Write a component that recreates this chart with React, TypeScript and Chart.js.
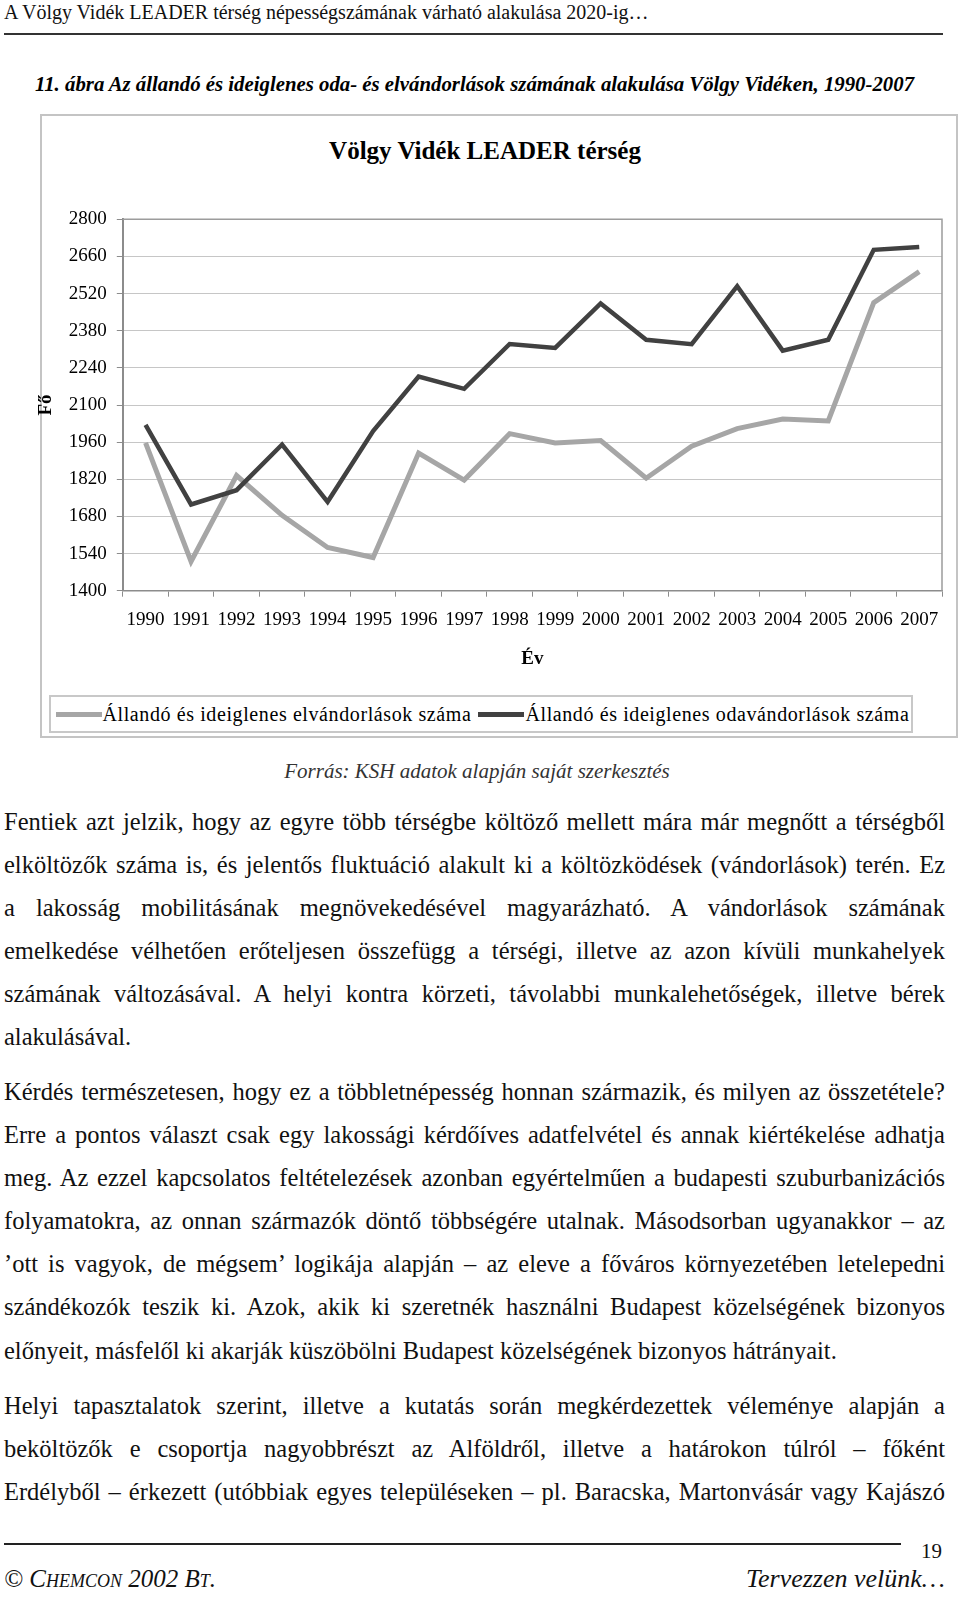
import React, { useEffect, useRef } from "react";
import { Chart, registerables } from "chart.js";

Chart.register(...registerables);

// ---- data ----
const years = [
  "1990", "1991", "1992", "1993", "1994", "1995", "1996", "1997", "1998",
  "1999", "2000", "2001", "2002", "2003", "2004", "2005", "2006", "2007",
];
// Állandó és ideiglenes elvándorlások száma (light)
const outMigration = [
  1957, 1510, 1834, 1684, 1563, 1525, 1919, 1817, 1992,
  1957, 1966, 1824, 1945, 2011, 2047, 2040, 2486, 2603,
];
// Állandó és ideiglenes odavándorlások száma (dark)
const inMigration = [
  2025, 1725, 1779, 1951, 1735, 2002, 2207, 2161, 2330,
  2315, 2483, 2346, 2329, 2548, 2305, 2346, 2685, 2696,
];
const yMin = 1400;
const yMax = 2800;
const yStep = 140;
const seriesLabels = [
  "Állandó és ideiglenes elvándorlások száma",
  "Állandó és ideiglenes odavándorlások száma",
];
const seriesColors = ["#a6a6a6", "#414141"];
const chartTitle = "Völgy Vidék LEADER térség";
const xTitle = "Év";
const yTitle = "Fő";

const SERIF = "'Liberation Serif', 'Times New Roman', serif";

const para1 = [
  "Fentiek azt jelzik, hogy az egyre több térségbe költöző mellett mára már megnőtt a térségből",
  "elköltözők száma is, és jelentős fluktuáció alakult ki a költözködések (vándorlások) terén. Ez",
  "a lakosság mobilitásának megnövekedésével magyarázható. A vándorlások számának",
  "emelkedése vélhetően erőteljesen összefügg a térségi, illetve az azon kívüli munkahelyek",
  "számának változásával. A helyi kontra körzeti, távolabbi munkalehetőségek, illetve bérek",
  "alakulásával.",
];
const para2 = [
  "Kérdés természetesen, hogy ez a többletnépesség honnan származik, és milyen az összetétele?",
  "Erre a pontos választ csak egy lakossági kérdőíves adatfelvétel és annak kiértékelése adhatja",
  "meg. Az ezzel kapcsolatos feltételezések azonban egyértelműen a budapesti szuburbanizációs",
  "folyamatokra, az onnan származók döntő többségére utalnak. Másodsorban ugyanakkor – az",
  "’ott is vagyok, de mégsem’ logikája alapján – az eleve a főváros környezetében letelepedni",
  "szándékozók teszik ki. Azok, akik ki szeretnék használni Budapest közelségének bizonyos",
  "előnyeit, másfelől ki akarják küszöbölni Budapest közelségének bizonyos hátrányait.",
];
const para3 = [
  "Helyi tapasztalatok szerint, illetve a kutatás során megkérdezettek véleménye alapján a",
  "beköltözők e csoportja nagyobbrészt az Alföldről, illetve a határokon túlról – főként",
  "Erdélyből – érkezett (utóbbiak egyes településeken – pl. Baracska, Martonvásár vagy Kajászó",
];

const plotFrame = {
  id: "plotFrame",
  beforeDatasetsDraw(chart: any) {
    const { ctx, chartArea } = chart;
    const { left, right, top, bottom } = chartArea;
    ctx.save();
    ctx.strokeStyle = "#9c9c9c";
    ctx.lineWidth = 1.5;
    ctx.beginPath();
    ctx.moveTo(left, top);
    ctx.lineTo(right, top);
    ctx.lineTo(right, bottom);
    ctx.stroke();
    ctx.restore();
  },
};

function MigrationChart() {
  const ref = useRef<HTMLCanvasElement | null>(null);
  useEffect(() => {
    if (!ref.current) return;
    const tickFont = { family: SERIF, size: 19 };
    const chart = new Chart(ref.current, {
      type: "line",
      data: {
        labels: years,
        datasets: [
          {
            label: seriesLabels[0],
            data: outMigration,
            borderColor: seriesColors[0],
            backgroundColor: seriesColors[0],
            borderWidth: 5,
            pointRadius: 0,
            tension: 0,
            order: 1,
          },
          {
            label: seriesLabels[1],
            data: inMigration,
            borderColor: seriesColors[1],
            backgroundColor: seriesColors[1],
            borderWidth: 4.5,
            pointRadius: 0,
            tension: 0,
            order: 0,
          },
        ],
      },
      options: {
        responsive: false,
        animation: false,
        events: [],
        layout: { padding: { left: 0, right: 18, top: 29.3, bottom: 0 } },
        plugins: {
          legend: { display: false },
          tooltip: { enabled: false },
          title: { display: false },
        },
        scales: {
          x: {
            type: "category",
            offset: true,
            grid: {
              drawOnChartArea: false,
              drawTicks: true,
              tickLength: 6,
              tickColor: "#8c8c8c",
              offset: true,
            },
            border: { display: true, color: "#8c8c8c", width: 1.5 },
            ticks: {
              color: "#000",
              font: tickFont,
              padding: 12,
              maxRotation: 0,
              autoSkip: false,
            },
            title: {
              display: true,
              text: xTitle,
              color: "#000",
              font: { family: SERIF, size: 19, weight: "bold" },
              padding: { top: 0, bottom: 10 },
            },
            afterFit(scale: any) {
              scale.height = 89.3;
            },
          },
          y: {
            min: yMin,
            max: yMax,
            ticks: {
              stepSize: yStep,
              color: "#000",
              font: tickFont,
              padding: 10,
              callback: (v: any) => String(v),
            },
            grid: {
              color: "#c6c6c6",
              lineWidth: 1,
              tickColor: "#8c8c8c",
              tickLength: 6,
            },
            border: { display: true, color: "#8c8c8c", width: 2 },
            title: {
              display: true,
              text: yTitle,
              color: "#000",
              font: { family: SERIF, size: 19, weight: "bold" },
              padding: { top: 34.6, bottom: 0 },
            },
            afterFit(scale: any) {
              scale.width = 122.8;
            },
          },
        },
      } as any,
      plugins: [plotFrame],
    });
    return () => chart.destroy();
  }, []);
  return (
    <canvas
      ref={ref}
      width={960}
      height={490}
      style={{ position: "absolute", left: 0, top: 190, width: 960, height: 490, display: "block" }}
    />
  );
}

function Paragraph({ lines, top, justifyLast }: { lines: string[]; top: number; justifyLast?: boolean }) {
  return (
    <div
      style={{
        position: "absolute",
        left: 4,
        top,
        width: 941,
        fontFamily: SERIF,
        fontSize: 24.5,
        lineHeight: "43.1px",
        color: "#111",
      }}
    >
      {lines.map((l, i) => (
        <div
          key={i}
          style={{
            textAlign: "justify",
            textAlignLast: i === lines.length - 1 && !justifyLast ? "left" : "justify",
          }}
        >
          {l}
        </div>
      ))}
    </div>
  );
}

export default function App() {
  return (
    <div style={{ position: "relative", width: 960, height: 1597, overflow: "hidden", background: "#fff" }}>
      <style>{"body{margin:0;background:#fff}"}</style>
      {/* running header */}
      <div
        style={{
          position: "absolute",
          left: 4,
          top: 0,
          fontFamily: SERIF,
          fontSize: 20,
          lineHeight: "24px",
          color: "#111",
          whiteSpace: "nowrap",
        }}
      >
        A Völgy Vidék LEADER térség népességszámának várható alakulása 2020-ig…
      </div>
      <div style={{ position: "absolute", left: 4, top: 33, width: 939, height: 2, background: "#333" }} />
      {/* caption */}
      <div
        style={{
          position: "absolute",
          left: 4,
          width: 941,
          top: 71,
          textAlign: "center",
          fontFamily: SERIF,
          fontSize: 20.8,
          fontWeight: "bold",
          fontStyle: "italic",
          lineHeight: "26px",
          color: "#000",
          whiteSpace: "nowrap",
        }}
      >
        11. ábra Az állandó és ideiglenes oda- és elvándorlások számának alakulása Völgy Vidéken, 1990-2007
      </div>
      {/* chart box */}
      <div
        style={{
          position: "absolute",
          left: 40,
          top: 114,
          width: 918,
          height: 624,
          border: "2px solid #c4c4c4",
          boxSizing: "border-box",
        }}
      />
      <div
        style={{
          position: "absolute",
          left: 485,
          top: 135,
          transform: "translateX(-50%)",
          fontFamily: SERIF,
          fontSize: 25,
          fontWeight: "bold",
          lineHeight: "32px",
          whiteSpace: "nowrap",
          color: "#000",
        }}
      >
        {chartTitle}
      </div>
      <MigrationChart />
      {/* legend */}
      <div
        style={{
          position: "absolute",
          left: 49,
          top: 695,
          width: 864,
          height: 38,
          border: "2px solid #c8c8c8",
          boxSizing: "border-box",
          display: "flex",
          alignItems: "center",
          paddingLeft: 4.5,
          fontFamily: SERIF,
          fontSize: 20,
          letterSpacing: 0.6,
          color: "#000",
          whiteSpace: "nowrap",
        }}
      >
        {seriesLabels.map((l, i) => (
          <div key={i} style={{ display: "flex", alignItems: "center", marginRight: 7 }}>
            <span style={{ display: "inline-block", width: 46, height: 5, background: seriesColors[i], marginRight: 1 }} />
            <span>{l}</span>
          </div>
        ))}
      </div>
      {/* source */}
      <div
        style={{
          position: "absolute",
          left: 4,
          width: 946,
          top: 758,
          textAlign: "center",
          fontFamily: SERIF,
          fontSize: 21,
          fontStyle: "italic",
          lineHeight: "26px",
          color: "#333",
        }}
      >
        Forrás: KSH adatok alapján saját szerkesztés
      </div>
      <Paragraph lines={para1} top={799.5} />
      <Paragraph lines={para2} top={1070} />
      <Paragraph lines={para3} top={1384} justifyLast />
      {/* footer */}
      <div style={{ position: "absolute", left: 4, top: 1543, width: 897, height: 2, background: "#222" }} />
      <div
        style={{
          position: "absolute",
          right: 18,
          top: 1538,
          fontFamily: SERIF,
          fontSize: 21,
          lineHeight: "26px",
          color: "#111",
        }}
      >
        19
      </div>
      <div
        style={{
          position: "absolute",
          left: 4,
          top: 1563,
          fontFamily: SERIF,
          fontSize: 25,
          fontStyle: "italic",
          fontVariant: "small-caps",
          lineHeight: "32px",
          color: "#111",
          whiteSpace: "nowrap",
        }}
      >
        © Chemcon 2002 Bt.
      </div>
      <div
        style={{
          position: "absolute",
          right: 15,
          top: 1563,
          fontFamily: SERIF,
          fontSize: 26,
          fontStyle: "italic",
          lineHeight: "32px",
          color: "#111",
          whiteSpace: "nowrap",
        }}
      >
        Tervezzen velünk…
      </div>
    </div>
  );
}
